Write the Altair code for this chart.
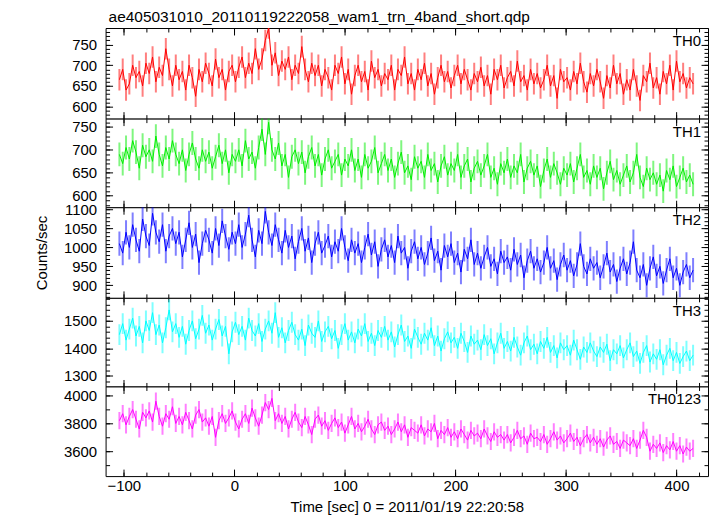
import altair as alt
import pandas as pd

# ---- data (3-second bins) ----
T_START = -104
T_STEP = 3

TH0 = [665, 690, 640, 655, 700, 670, 685, 650, 705,
       680, 720, 660, 695, 675, 740, 690, 650, 700,
       665, 685, 640, 700, 670, 625, 690, 660, 705,
       680, 650, 715, 670, 690, 640, 685, 700, 660,
       695, 720, 670, 705, 680, 740, 690, 715, 760,
       790, 700, 730, 675, 710, 690, 720, 665, 700,
       680, 745, 690, 660, 705, 675, 700, 650, 690,
       670, 640, 700, 680, 720, 655, 690, 630, 675,
       700, 660, 685, 640, 710, 670, 690, 650, 680,
       665, 700, 640, 690, 675, 720, 655, 680, 640,
       690, 665, 705, 650, 680, 630, 670, 700, 660,
       685, 645, 675, 700, 655, 690, 665, 640, 680,
       660, 695, 650, 675, 630, 690, 665, 700, 645,
       670, 685, 650, 710, 660, 675, 640, 690, 655,
       680, 645, 665, 700, 650, 675, 620, 690, 660,
       670, 640, 685, 655, 705, 660, 635, 680, 650,
       690, 660, 620, 675, 645, 700, 655, 680, 630,
       665, 640, 690, 650, 615, 675, 660, 705, 645,
       670, 630, 685, 655, 700, 640, 710, 660, 680,
       645, 670, 655]

TH1 = [690, 670, 705, 680, 720, 695, 660, 710, 685,
       700, 675, 730, 690, 665, 705, 680, 720, 690,
       670, 700, 655, 690, 715, 680, 660, 700, 675,
       695, 660, 685, 710, 670, 700, 650, 690, 675,
       700, 665, 720, 680, 695, 660, 705, 745, 690,
       760, 700, 680, 715, 665, 690, 640, 685, 700,
       670, 695, 650, 685, 705, 665, 690, 645, 680,
       700, 660, 675, 690, 645, 680, 665, 700, 655,
       680, 640, 690, 660, 675, 705, 650, 670, 690,
       655, 680, 640, 670, 695, 650, 665, 635, 685,
       660, 675, 640, 690, 655, 670, 630, 665, 685,
       645, 670, 655, 690, 640, 665, 680, 630, 660,
       675, 645, 665, 690, 640, 660, 625, 670, 650,
       680, 640, 665, 650, 690, 630, 660, 675, 645,
       665, 620, 655, 680, 640, 670, 650, 625, 660,
       645, 670, 630, 660, 690, 640, 655, 625, 665,
       640, 660, 615, 650, 675, 635, 655, 625, 645,
       665, 630, 650, 690, 640, 620, 660, 635, 650,
       625, 645, 610, 655, 635, 665, 620, 640, 660,
       630, 645, 625]

TH2 = [1010, 985, 1040, 1000, 1060, 1020, 990, 1075, 1030,
       1005, 1090, 1040, 1015, 1060, 990, 1030, 1050, 1010,
       1040, 975, 1020, 1065, 1000, 1035, 960, 1010, 1045,
       1020, 985, 1050, 1005, 1070, 1030, 995, 1040, 1010,
       1060, 1000, 1035, 1085, 1020, 975, 1045, 1010, 1095,
       1040, 1005, 1060, 1020, 985, 1045, 1000, 1030, 970,
       1015, 1050, 990, 1025, 960, 1010, 1040, 985, 1005,
       1030, 975, 1015, 990, 1050, 1000, 965, 1020, 985,
       1010, 960, 1000, 1035, 980, 1015, 950, 995, 1020,
       975, 1005, 960, 1030, 985, 1000, 945, 990, 1015,
       970, 1000, 955, 985, 1025, 965, 990, 940, 1005,
       975, 1010, 960, 985, 935, 995, 970, 1020, 955,
       985, 945, 975, 1000, 950, 970, 930, 990, 960,
       975, 940, 995, 955, 980, 920, 965, 990, 945,
       970, 935, 960, 1000, 945, 965, 915, 955, 980,
       940, 965, 925, 955, 1010, 950, 930, 970, 945,
       960, 920, 950, 985, 935, 955, 910, 945, 970,
       930, 960, 1015, 940, 920, 955, 900, 945, 975,
       925, 950, 905, 940, 970, 920, 945, 900, 935,
       955, 920, 940]

TH3 = [1450, 1490, 1430, 1470, 1510, 1445, 1480, 1420, 1500,
       1465, 1530, 1450, 1485, 1420, 1475, 1540, 1460, 1490,
       1440, 1480, 1415, 1465, 1500, 1435, 1470, 1520, 1455,
       1485, 1430, 1470, 1505, 1445, 1480, 1380, 1460, 1495,
       1450, 1480, 1430, 1510, 1465, 1445, 1490, 1425, 1470,
       1500, 1455, 1530, 1440, 1475, 1420, 1465, 1495, 1450,
       1430, 1470, 1410, 1485, 1455, 1440, 1500, 1425, 1460,
       1480, 1435, 1465, 1400, 1450, 1490, 1430, 1460, 1420,
       1470, 1445, 1490, 1425, 1455, 1410, 1465, 1440, 1480,
       1430, 1460, 1405, 1450, 1485, 1425, 1445, 1400, 1470,
       1440, 1415, 1455, 1430, 1475, 1410, 1445, 1390, 1435,
       1460, 1420, 1440, 1400, 1455, 1425, 1385, 1445, 1415,
       1430, 1395, 1450, 1410, 1435, 1380, 1420, 1455, 1400,
       1425, 1390, 1440, 1405, 1375, 1420, 1445, 1395, 1415,
       1380, 1425, 1400, 1440, 1385, 1410, 1365, 1420, 1395,
       1410, 1375, 1430, 1395, 1360, 1405, 1385, 1420, 1390,
       1370, 1405, 1385, 1415, 1355, 1395, 1380, 1410, 1365,
       1395, 1420, 1370, 1390, 1345, 1385, 1410, 1350, 1380,
       1360, 1395, 1340, 1375, 1400, 1355, 1385, 1345, 1370,
       1390, 1355, 1375]

TH0123 = [3820, 3870, 3790, 3850, 3900, 3830, 3760, 3880, 3840,
          3890, 3810, 3960, 3850, 3780, 3870, 3830, 3920, 3800,
          3850, 3790, 3880, 3820, 3760, 3860, 3900, 3810, 3840,
          3780, 3850, 3700, 3820, 3870, 3800, 3840, 3890, 3810,
          3760, 3830, 3870, 3800, 3910, 3840, 3780, 3860, 3950,
          3900, 3980, 3820, 3870, 3800, 3850, 3760, 3830, 3880,
          3810, 3770, 3850, 3790, 3720, 3830, 3860, 3780, 3820,
          3750, 3800, 3840, 3770, 3810, 3730, 3790, 3850, 3760,
          3800, 3740, 3780, 3830, 3760, 3720, 3790, 3810, 3750,
          3780, 3720, 3760, 3810, 3740, 3790, 3700, 3770, 3750,
          3730, 3790, 3710, 3760, 3740, 3800, 3690, 3750, 3720,
          3770, 3700, 3740, 3690, 3760, 3720, 3680, 3750, 3710,
          3730, 3690, 3760, 3710, 3670, 3740, 3700, 3720, 3680,
          3720, 3660, 3700, 3750, 3690, 3710, 3650, 3730, 3690,
          3700, 3670, 3720, 3650, 3690, 3740, 3680, 3710, 3660,
          3690, 3730, 3670, 3700, 3640, 3690, 3720, 3660, 3700,
          3650, 3690, 3630, 3680, 3710, 3650, 3670, 3620, 3680,
          3660, 3640, 3690, 3620, 3680, 3750, 3700, 3600, 3650,
          3620, 3660, 3590, 3640, 3610, 3670, 3600, 3640, 3580,
          3630, 3600, 3620]

SERIES = [TH0, TH1, TH2, TH3, TH0123]
NAMES = ["TH0", "TH1", "TH2", "TH3", "TH0123"]
COLORS = ["#ff0000", "#00ee00", "#0000ff", "#00ffff", "#ff00ff"]
ERRS = [26, 26, 32, 38, 62]
YDOM = [[571, 790], [575, 768], [867, 1106], [1261, 1584], [3421, 4066]]
YMAJ = [[600, 650, 700, 750], [600, 650, 700, 750],
        [900, 950, 1000, 1050, 1100], [1300, 1400, 1500], [3600, 3800, 4000]]
YMIN_STEP = [10, 10, 10, 20, 100]
HEIGHTS = [91, 89, 91, 89, 90]
XDOM = [-116.5, 428.5]
XMAJ = [-100, 0, 100, 200, 300, 400]
XMIN = list(range(-100, 421, 20))

TITLE = "ae405031010_20110119222058_wam1_trn_4band_short.qdp"
XTITLE = "Time [sec] 0 = 2011/01/19 22:20:58"
YTITLE = "Counts/sec"

FONT = "Liberation Sans"
W = 605


def minor_vals(dom, step):
    lo = int(-(-dom[0] // step) * step)
    return list(range(lo, int(dom[1]) + 1, step))


def tick_axis(orient, offset, values, size):
    return alt.Axis(orient=orient, offset=offset, values=values, labels=False,
                    domain=False, grid=False, ticks=True, tickSize=size,
                    tickColor="black", tickWidth=1, title=None)


def panel(i):
    last = i == len(SERIES) - 1
    H = HEIGHTS[i]
    vals = SERIES[i]
    df = pd.DataFrame({
        "t": [T_START + T_STEP * k for k in range(len(vals))],
        "v": vals,
    })
    df["lo"] = df["v"] - ERRS[i]
    df["hi"] = df["v"] + ERRS[i]

    xs = alt.Scale(domain=XDOM, nice=False, zero=False)
    ys = alt.Scale(domain=YDOM[i], nice=False, zero=False)
    ymin = minor_vals(YDOM[i], YMIN_STEP[i])

    if last:
        xlab = alt.Axis(orient="bottom", values=XMAJ, format="d", ticks=False,
                        domain=False, grid=False, labelPadding=2, title=XTITLE,
                        titlePadding=7, labelFontSize=15, titleFontSize=15,
                        titleFontWeight="normal", labelFont=FONT, titleFont=FONT)
    else:
        xlab = None
    ylab_kwargs = dict(orient="left", values=YMAJ[i], format="d", ticks=False,
                       domain=False, grid=False, labelPadding=9, labelFontSize=15,
                       labelFont=FONT)
    if i == 2:
        ylab = alt.Axis(title=YTITLE, titlePadding=14, titleFontSize=15,
                        titleFontWeight="normal", titleFont=FONT, **ylab_kwargs)
    else:
        ylab = alt.Axis(title=None, **ylab_kwargs)

    err = alt.Chart(df).mark_rule(color=COLORS[i], opacity=0.5, strokeWidth=2,
                                  clip=True).encode(
        x=alt.X("t:Q", scale=xs, axis=xlab),
        y=alt.Y("lo:Q", scale=ys, axis=ylab),
        y2="hi:Q",
    )
    line = alt.Chart(df).mark_line(color=COLORS[i], strokeWidth=1, clip=True).encode(
        x=alt.X("t:Q", scale=xs, axis=tick_axis("top", -H, XMAJ, 7)),
        y=alt.Y("v:Q", scale=ys, axis=tick_axis("right", -W, YMAJ[i], 7)),
    )
    inv1 = alt.Chart(df).mark_point(opacity=0, size=1).encode(
        x=alt.X("t:Q", scale=xs, axis=tick_axis("bottom", -H, XMAJ, 7)),
        y=alt.Y("v:Q", scale=ys, axis=tick_axis("left", -W, YMAJ[i], 7)),
    )
    inv2 = alt.Chart(df).mark_point(opacity=0, size=1).encode(
        x=alt.X("t:Q", scale=xs, axis=tick_axis("top", -H, XMIN, 4)),
        y=alt.Y("v:Q", scale=ys, axis=tick_axis("right", -W, ymin, 4)),
    )
    inv3 = alt.Chart(df).mark_point(opacity=0, size=1).encode(
        x=alt.X("t:Q", scale=xs, axis=tick_axis("bottom", -H, XMIN, 4)),
        y=alt.Y("v:Q", scale=ys, axis=tick_axis("left", -W, ymin, 4)),
    )
    lab = alt.Chart(pd.DataFrame({"name": [NAMES[i]]})).mark_text(
        align="right", baseline="alphabetic", fontSize=15, font=FONT, color="black"
    ).encode(
        text="name:N",
        x=alt.value(W - 7),
        y=alt.value(18),
    )
    layer = alt.layer(err, line, inv1, inv2, inv3, lab).resolve_axis(
        x="independent", y="independent"
    ).properties(width=W, height=H,
                 view=alt.ViewBackground(stroke="black", strokeWidth=1, fill="white"))
    if i == 0:
        layer = layer.properties(title=alt.TitleParams(
            TITLE, anchor="start", frame="group", fontSize=15.5, font=FONT,
            fontWeight="normal", color="black", offset=2, dx=3))
    return layer


chart = alt.vconcat(*[panel(i) for i in range(len(SERIES))], spacing=0,
                    bounds="flush").properties(
    padding={"left": 26, "top": 0, "right": 0, "bottom": 0}
).configure_view(
    stroke="black", strokeWidth=1
).configure_axis(
    labelFont=FONT, titleFont=FONT, labelColor="black", titleColor="black",
    titleFontWeight="normal", labelFontSize=15, titleFontSize=15
).configure(background="white")

chart.save("out.html", embed_options={"renderer": "svg", "actions": False})
